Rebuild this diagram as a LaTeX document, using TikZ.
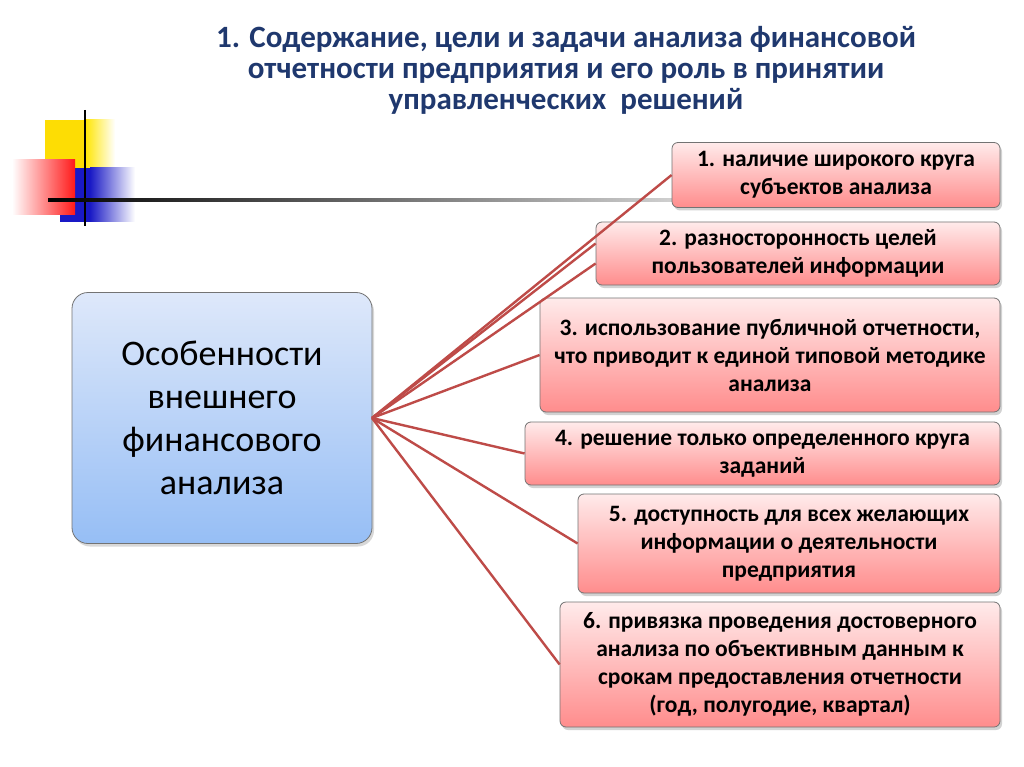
\documentclass[tikz,border=0pt]{standalone}
\usepackage{fontspec}
\setmainfont{Carlito}
\usetikzlibrary{shadows}
\definecolor{ttl}{RGB}{31,56,110}
\definecolor{ln}{RGB}{190,75,72}
\definecolor{mtop}{RGB}{222,232,250}
\definecolor{mbot}{RGB}{150,190,245}
\begin{document}
\begin{tikzpicture}[x=1pt,y=-1pt,
 pbox/.style={draw=black!55,line width=0.8pt,rounded corners=6pt,top color=red!8,bottom color=red!45,
  drop shadow={opacity=0.35,shadow xshift=2pt,shadow yshift=-3pt},
  align=center,font=\bfseries\fontsize{23.5}{28}\selectfont,inner sep=0pt},
 conn/.style={draw=ln,line width=2.4pt}]
\useasboundingbox (0,0) rectangle (1024,767);
\fill[white] (0,0) rectangle (1024,767);
% logo
\fill[yellow!80!orange] (45,120) rectangle (85,180);
\shade[left color=yellow!80!orange,right color=white] (85,120) rectangle (115,180);
\fill[blue!75!black!90] (60,168) rectangle (90,222);
\shade[left color=blue!75!black!90,right color=white] (90,168) rectangle (135,222);
\shade[left color=white,right color=red!90] (12,160) rectangle (75,215);
\draw[line width=2.5pt] (85,110) -- (85,226);
\shade[left color=black,right color=black!15] (48,198.5) rectangle (700,202);
% title
\node[text=ttl,align=center,font=\bfseries\fontsize{31}{31}\selectfont] (title) at (566,70)
 {1. Содержание, цели и задачи анализа финансовой\\отчетности предприятия и его роль в принятии\\управленческих \ решений};
% main
\node[draw=black!55,line width=0.8pt,rounded corners=16pt,top color=mtop,bottom color=mbot,
  drop shadow={opacity=0.3,shadow xshift=2pt,shadow yshift=-3pt},
  minimum width=300pt,minimum height=251pt,align=center,font=\fontsize{36}{43}\selectfont] (main) at (222,418)
 {Особенности\\внешнего\\финансового\\анализа};
\coordinate (src) at (372,418);
\node[pbox,minimum width=328pt,minimum height=65pt] (b1) at (836,175) {1. наличие широкого круга\\субъектов анализа};
\node[pbox,minimum width=404pt,minimum height=63pt] (b2) at (798,253.5) {2. разносторонность целей\\пользователей информации};
\node[pbox,minimum width=460pt,minimum height=114pt] (b3) at (770,355) {3. использование публичной отчетности,\\что приводит к единой типовой методике\\анализа};
\node[pbox,minimum width=475pt,minimum height=63pt] (b4) at (762.5,453.5) {4. решение только определенного круга\\заданий};
\node[pbox,minimum width=422pt,minimum height=99pt] (b5) at (789,543.5) {5. доступность для всех желающих\\информации о деятельности\\предприятия};
\node[pbox,minimum width=440pt,minimum height=125pt] (b6) at (780,664.5) {6. привязка проведения достоверного\\анализа по объективным данным к\\срокам предоставления отчетности\\(год, полугодие, квартал)};
\draw[conn] (src) -- (b1.west);
\draw[conn] (src) -- ([yshift=-10pt]b2.west);
\draw[conn] (src) -- ([yshift=10pt]b2.west);
\draw[conn] (src) -- (b3.west);
\draw[conn] (src) -- (b4.west);
\draw[conn] (src) -- (b5.west);
\draw[conn] (src) -- (b6.west);
\end{tikzpicture}
\end{document}
